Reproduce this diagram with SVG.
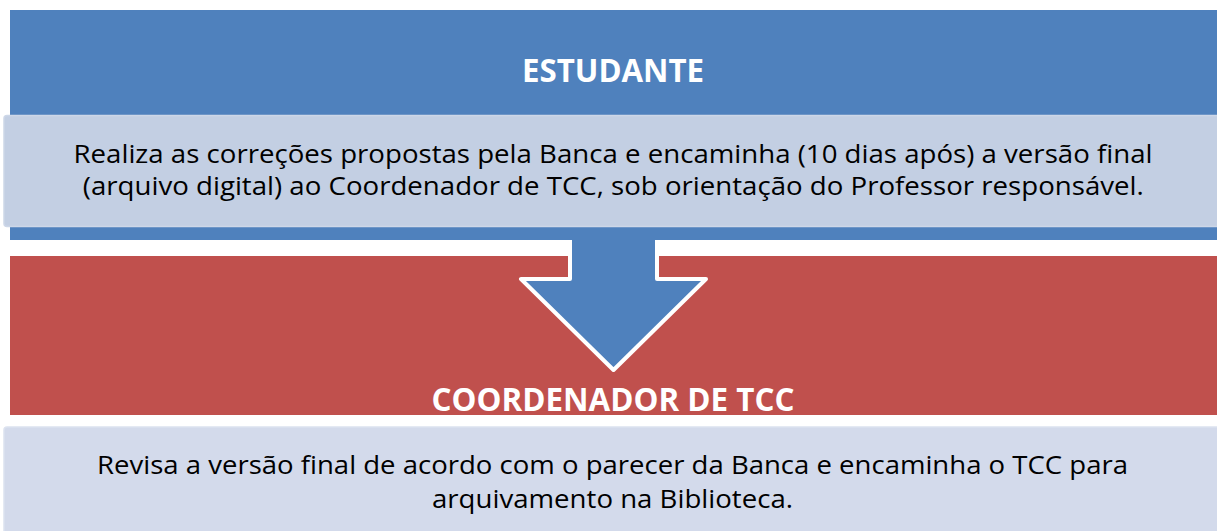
<svg xmlns="http://www.w3.org/2000/svg" width="1217" height="531" viewBox="0 0 1217 531">
<style>
.hdr{font-family:"Open Sans","Liberation Sans",sans-serif;font-weight:bold;font-size:33px;fill:#FFFFFF;text-anchor:middle}
.body{font-family:"Open Sans","Liberation Sans",sans-serif;font-size:24.8px;fill:#000000;text-anchor:middle}
</style>
<rect width="1217" height="531" fill="#FFFFFF"/>
<g id="coordenador">
<rect x="10" y="256" width="1215" height="159" fill="#C0504D"/>
<rect x="4" y="427" width="1220" height="110" rx="3" fill="#D3DAEB" stroke="#DCE2EF" stroke-width="1.5"/>
<text class="hdr" x="613" y="410.5" textLength="363" lengthAdjust="spacingAndGlyphs">COORDENADOR DE TCC</text>
<text class="body" x="612.5" y="474.3" textLength="1031" lengthAdjust="spacingAndGlyphs">Revisa a versão final de acordo com o parecer da Banca e encaminha o TCC para</text>
<text class="body" x="612.5" y="508.3" textLength="361" lengthAdjust="spacingAndGlyphs">arquivamento na Biblioteca.</text>
</g>
<g id="connectors">
<polygon points="570,228 657,228 657,279 706,279 613.5,370 521,279 570,279" fill="#4F81BD" stroke="#FFFFFF" stroke-width="4" stroke-linejoin="round"/>
</g>
<g id="estudante">
<rect x="10" y="10" width="1215" height="230" fill="#4F81BD"/>
<rect x="4" y="115.5" width="1220" height="111" rx="3" fill="#C3CFE3" stroke="#CDD7E8" stroke-width="1.5"/>
<text class="hdr" x="613" y="82" textLength="182" lengthAdjust="spacingAndGlyphs">ESTUDANTE</text>
<text class="body" x="613" y="162.7" textLength="1079" lengthAdjust="spacingAndGlyphs">Realiza as correções propostas pela Banca e encaminha (10 dias após) a versão final</text>
<text class="body" x="613.3" y="195" textLength="1061" lengthAdjust="spacingAndGlyphs">(arquivo digital) ao Coordenador de TCC, sob orientação do Professor responsável.</text>
</g>
</svg>
